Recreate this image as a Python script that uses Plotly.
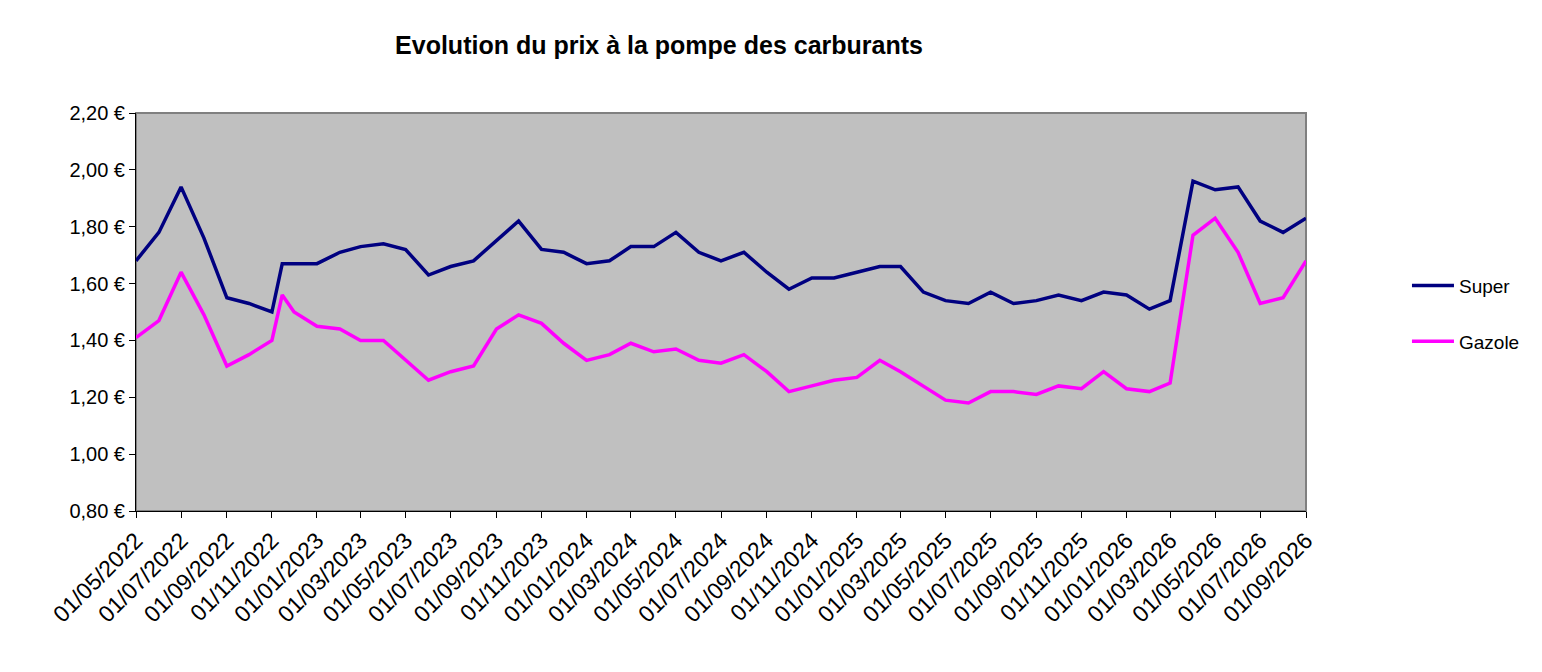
import plotly.graph_objects as go

# Dates des relevés (mensuels, plus un relevé à la mi-novembre 2022)
dates = [
    "2022-05-01", "2022-06-01", "2022-07-01", "2022-08-01", "2022-09-01", "2022-10-01",
    "2022-11-01", "2022-11-15", "2022-12-01",
    "2023-01-01", "2023-02-01", "2023-03-01", "2023-04-01", "2023-05-01", "2023-06-01",
    "2023-07-01", "2023-08-01", "2023-09-01", "2023-10-01", "2023-11-01", "2023-12-01",
    "2024-01-01", "2024-02-01", "2024-03-01", "2024-04-01", "2024-05-01", "2024-06-01",
    "2024-07-01", "2024-08-01", "2024-09-01", "2024-10-01", "2024-11-01", "2024-12-01",
    "2025-01-01", "2025-02-01", "2025-03-01", "2025-04-01", "2025-05-01", "2025-06-01",
    "2025-07-01", "2025-08-01", "2025-09-01", "2025-10-01", "2025-11-01", "2025-12-01",
    "2026-01-01", "2026-02-01", "2026-03-01", "2026-04-01", "2026-05-01", "2026-06-01",
    "2026-07-01", "2026-08-01", "2026-09-01",
]

super_prix = [
    1.68, 1.78, 1.94, 1.76, 1.55, 1.53,
    1.50, 1.67, 1.67,
    1.67, 1.71, 1.73, 1.74, 1.72, 1.63,
    1.66, 1.68, 1.75, 1.82, 1.72, 1.71,
    1.67, 1.68, 1.73, 1.73, 1.78, 1.71,
    1.68, 1.71, 1.64, 1.58, 1.62, 1.62,
    1.64, 1.66, 1.66, 1.57, 1.54, 1.53,
    1.57, 1.53, 1.54, 1.56, 1.54, 1.57,
    1.56, 1.51, 1.54, 1.96, 1.93, 1.94,
    1.82, 1.78, 1.83,
]

gazole_prix = [
    1.41, 1.47, 1.64, 1.49, 1.31, 1.35,
    1.40, 1.56, 1.50,
    1.45, 1.44, 1.40, 1.40, 1.33, 1.26,
    1.29, 1.31, 1.44, 1.49, 1.46, 1.39,
    1.33, 1.35, 1.39, 1.36, 1.37, 1.33,
    1.32, 1.35, 1.29, 1.22, 1.24, 1.26,
    1.27, 1.33, 1.29, 1.24, 1.19, 1.18,
    1.22, 1.22, 1.21, 1.24, 1.23, 1.29,
    1.23, 1.22, 1.25, 1.77, 1.83, 1.71,
    1.53, 1.55, 1.68,
]

# Graduations de l'axe des dates
graduations = [
    "2022-05-01", "2022-07-01", "2022-09-01", "2022-11-01",
    "2023-01-01", "2023-03-01", "2023-05-01", "2023-07-01", "2023-09-01", "2023-11-01",
    "2024-01-01", "2024-03-01", "2024-05-01", "2024-07-01", "2024-09-01", "2024-11-01",
    "2025-01-01", "2025-03-01", "2025-05-01", "2025-07-01", "2025-09-01", "2025-11-01",
    "2026-01-01", "2026-03-01", "2026-05-01", "2026-07-01", "2026-09-01",
]

police = "Liberation Sans, Arial, sans-serif"

fig = go.Figure()
fig.add_trace(go.Scatter(x=dates, y=super_prix, mode="lines", name="Super",
                         legendgroup="super",
                         line=dict(color="#000080", width=3.5)))
fig.add_trace(go.Scatter(x=dates, y=gazole_prix, mode="lines", name="Gazole",
                         legendgroup="gazole",
                         line=dict(color="#FF00FF", width=3.5)))

# Cadre gris du haut et de droite
fig.add_shape(type="rect", xref="x domain", yref="y domain", x0=0, x1=1, y0=0, y1=1,
              line=dict(color="#808080", width=2), layer="below")

fig.update_layout(
    width=1542, height=672,
    margin=dict(l=128, r=244, t=105, b=169),
    paper_bgcolor="white", plot_bgcolor="#C0C0C0",
    separators=", ",
    font=dict(family=police, size=19, color="black"),
    title=dict(text="<b>Evolution du prix à la pompe des carburants</b>",
               font=dict(size=25, family=police, color="black"),
               x=0.4222, xanchor="center", y=1 - 37 / 672, yanchor="middle"),
    legend=dict(x=1.0863, xanchor="left", y=0.614, yanchor="top",
                bgcolor="rgba(0,0,0,0)", tracegroupgap=28, itemwidth=42,
                font=dict(size=19, family=police)),
    showlegend=True,
)

fig.update_xaxes(type="date", range=["2022-05-01", "2026-09-01"],
                 tickvals=graduations, tickformat="%d/%m/%Y", tickangle=-45,
                 ticks="outside", ticklen=6, tickcolor="black",
                 showgrid=False, zeroline=False,
                 showline=True, linecolor="black", linewidth=1,
                 tickfont=dict(size=23))
fig.update_yaxes(range=[0.8, 2.2], dtick=0.2, tick0=0.8, tickformat=".2f",
                 ticksuffix=" €", ticks="outside", ticklen=6, tickcolor="black",
                 showgrid=False, zeroline=False,
                 showline=True, linecolor="black", linewidth=1,
                 tickfont=dict(size=20))

fig.write_html("out.html")
